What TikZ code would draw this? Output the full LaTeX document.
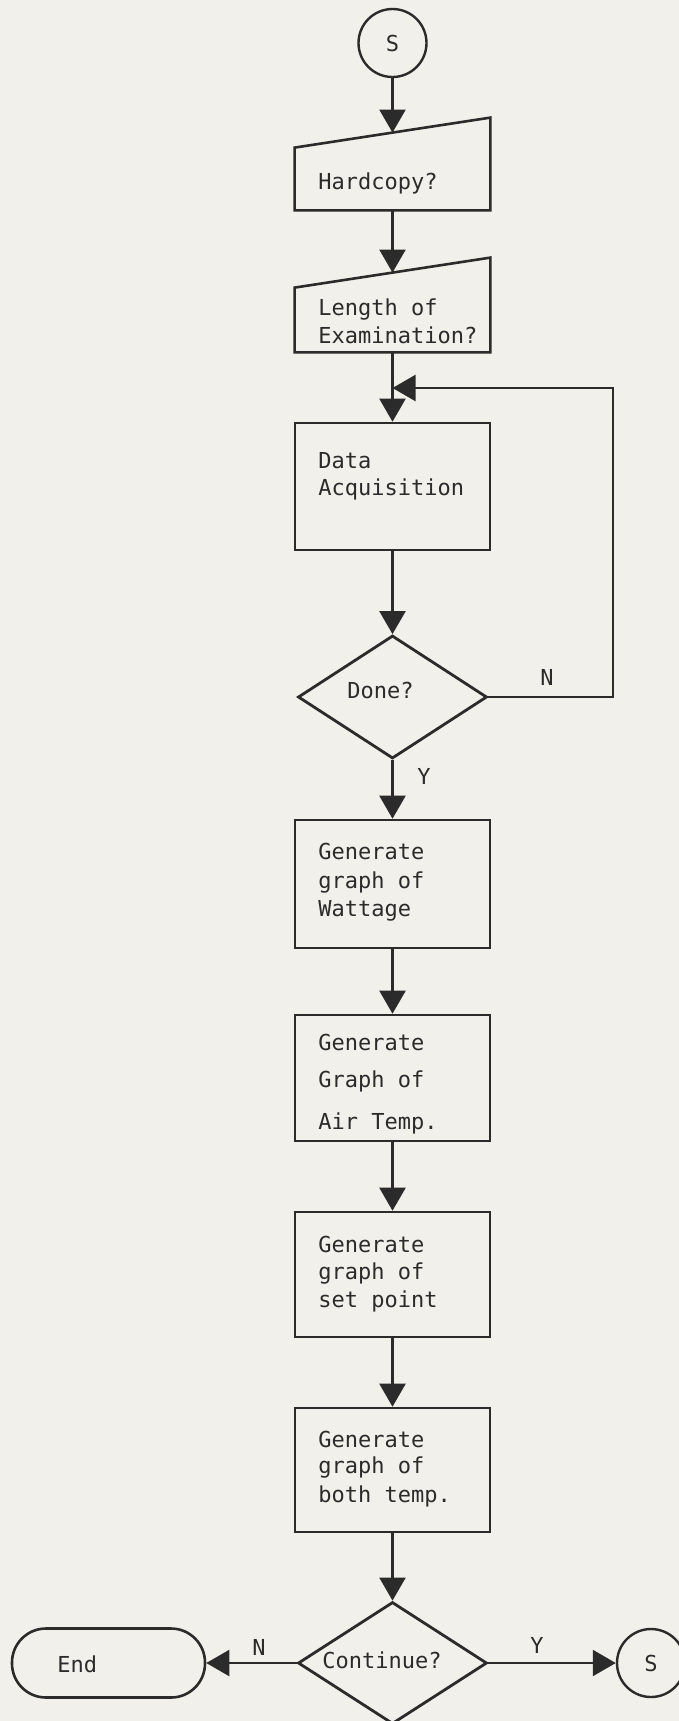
\documentclass[tikz,border=0pt]{standalone}
\usepackage{fontspec}
\newfontfamily\monofnt{DejaVu Sans Mono}
\usetikzlibrary{arrows.meta,shapes.geometric}
\definecolor{paper}{HTML}{F2F0EA}
\definecolor{ink}{HTML}{2B2B2B}
\begin{document}
\begin{tikzpicture}[x=0.5pt,y=-0.5pt,
  box/.style={draw=ink, line width=1.3pt, minimum width=97.5pt, inner sep=0pt},
  ghost/.style={inner sep=0pt, minimum width=97.5pt},
  dia/.style={diamond, draw=ink, line width=1.4pt, minimum width=94.5pt, minimum height=61.5pt, inner sep=0pt},
  conn/.style={circle, draw=ink, line width=1.2pt, minimum size=34pt, inner sep=0pt, text=ink, font=\monofnt\fontsize{11}{13}\selectfont},
  txt/.style={anchor=base west, inner sep=0pt, text=ink, font=\monofnt\fontsize{11}{13}\selectfont},
  arr/.style={draw=ink, line width=1.1pt, -{Triangle[length=11.5pt,width=13pt]}},
  shapeline/.style={draw=ink, line width=1.3pt}]
\fill[paper] (0,0) rectangle (679,1721);
\useasboundingbox (0,0) rectangle (679,1721);

% start connector
\node[conn] (s1) at (392.5,43) {S};

% Hardcopy? (manual input)
\node[ghost, minimum height=46pt] (hc) at (392.5,164) {};
\draw[shapeline] (hc.south west) -- (hc.south east) -- (hc.north east) -- ([yshift=-15pt]hc.north west) -- cycle;
\coordinate (hcin) at ([yshift=-7.5pt]hc.north);
\node[txt] (hct) at (318,189) {Hardcopy?};

% Length of Examination? (manual input)
\node[ghost, minimum height=47pt] (len) at (392.5,305) {};
\draw[shapeline] (len.south west) -- (len.south east) -- (len.north east) -- ([yshift=-15pt]len.north west) -- cycle;
\coordinate (lenin) at ([yshift=-7.5pt]len.north);
\node[txt] (lent1) at (318,315) {Length of};
\node[txt] (lent2) at (318,343) {Examination?};

% Data Acquisition
\node[box, minimum height=63.5pt] (da) at (392.5,486.5) {};
\node[txt] (dat1) at (318,468) {Data};
\node[txt] (dat2) at (318,495) {Acquisition};

% Done?
\node[dia] (done) at (392.5,697) {};
\node[txt] (donet) at (347,698) {Done?};
\node[txt] (doneN) at (540,685) {N};
\node[txt] (doneY) at (417,784) {Y};

% Wattage
\node[box, minimum height=64pt] (wt) at (392.5,884) {};
\node[txt] (wt1) at (318,859) {Generate};
\node[txt] (wt2) at (318,888) {graph of};
\node[txt] (wt3) at (318,916) {Wattage};

% Air Temp
\node[box, minimum height=63pt] (air) at (392.5,1078) {};
\node[txt] (air1) at (318,1050) {Generate};
\node[txt] (air2) at (318,1087) {Graph of};
\node[txt] (air3) at (318,1129) {Air Temp.};

% set point
\node[box, minimum height=62.5pt] (sp) at (392.5,1274.5) {};
\node[txt] (sp1) at (318,1252) {Generate};
\node[txt] (sp2) at (318,1279) {graph of};
\node[txt] (sp3) at (318,1307) {set point};

% both temp
\node[box, minimum height=62pt] (bt) at (392.5,1470) {};
\node[txt] (bt1) at (318,1447) {Generate};
\node[txt] (bt2) at (318,1473) {graph of};
\node[txt] (bt3) at (318,1502) {both temp.};

% Continue?
\node[dia, minimum height=61pt] (cont) at (392.5,1663) {};
\node[txt] (contt) at (322,1668) {Continue?};
\node[txt] (contN) at (252,1655) {N};
\node[txt] (contY) at (530,1653) {Y};

% End
\node[draw=ink, line width=1.3pt, rounded corners=17pt, minimum width=96.5pt, minimum height=34.5pt, inner sep=0pt] (end) at (108.5,1663) {};
\node[txt] (endt) at (57,1672) {End};

% restart connector
\node[conn] (s2) at (651,1663) {S};

% connectors
\draw[arr] (s1) -- (hcin);
\draw[arr] (hc.south) -- (lenin);
\draw[arr] (len.south) -- (da.north);
\draw[arr] (da) -- (done);
\draw[arr] (done) -- (wt);
\draw[arr] (wt) -- (air);
\draw[arr] (air) -- (sp);
\draw[arr] (sp) -- (bt);
\draw[arr] (bt) -- (cont);
\draw[arr] (cont) -- (end);
\draw[arr] (cont) -- (s2);
\coordinate (fb1) at (613,697);
\coordinate (fb2) at (613,388);
\coordinate (join) at (392.5,388);
\draw[arr] (done.east) -- (fb1) -- (fb2) -- (join);
\end{tikzpicture}
\end{document}
